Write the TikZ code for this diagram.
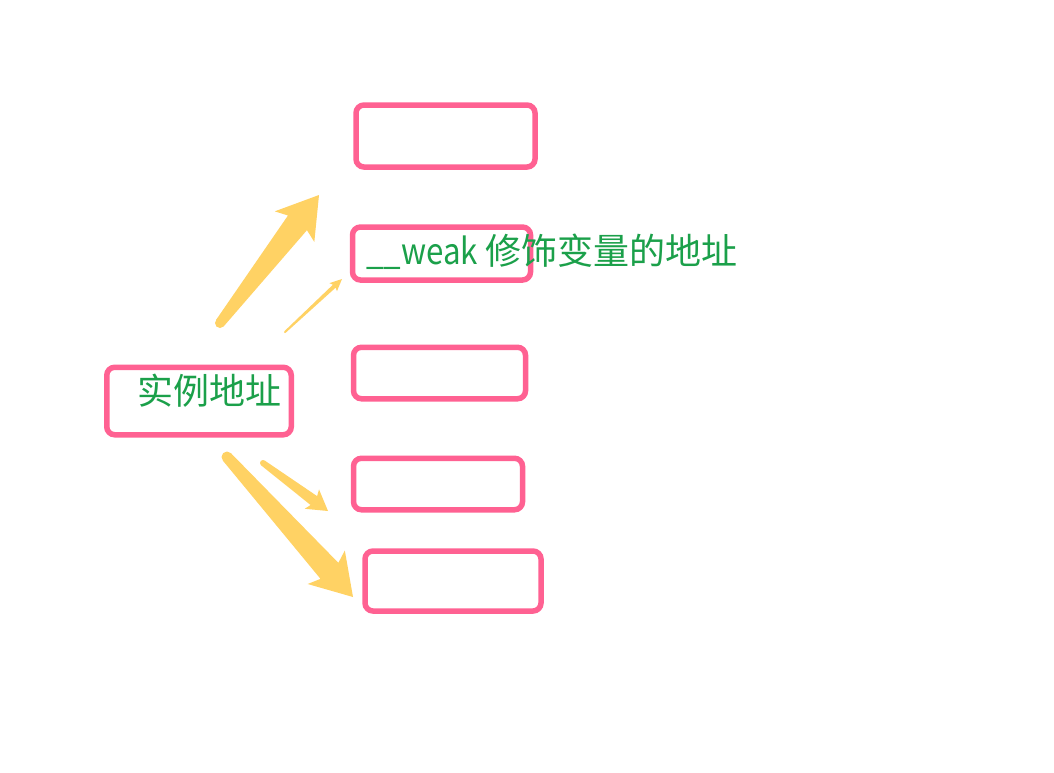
\documentclass[tikz,border=0pt]{standalone}
\usepackage{fontspec}
\usepackage{tikz}
\usetikzlibrary{calc}
\newfontfamily\cjk{Noto Sans CJK SC}
\newfontfamily\cjknarrow[FakeStretch=0.87]{Noto Sans CJK SC}
\definecolor{slotpink}{HTML}{FF6192}
\definecolor{addrgreen}{HTML}{1BA04A}
\definecolor{arrowyel}{HTML}{FFD264}
\tikzset{
  slot/.style={draw=slotpink, line width=5.5pt, rounded corners=8pt, inner sep=0pt, fill=white},
  addr/.style={text=addrgreen, inner sep=0pt, font=\cjk\fontsize{36}{40}\selectfont},
  yarrow/.style={fill=arrowyel},
}
% tail, tip, tail half width, neck half width, head half width, head length
\newcommand\fatarr[6]{%
  \path ($(#2)!0.88*#6!(#1)$) coordinate (nk) ($(#2)!#6!(#1)$) coordinate (hb);
  \fill[yarrow] ($(#1)!#3!90:(#2)$) -- ($(nk)!#4!90:(#2)$) -- ($(hb)!#5!90:(#2)$) -- (#2)
    -- ($(hb)!#5!-90:(#2)$) -- ($(nk)!#4!-90:(#2)$) -- ($(#1)!#3!-90:(#2)$) -- cycle;
  \fill[yarrow] (#1) circle (#3);
}
\begin{document}
\begin{tikzpicture}[x=1pt, y=-1pt]
  \useasboundingbox[fill=white] (0,0) rectangle (1054,772);
  % table slots
  \node[slot, minimum width=179pt, minimum height=62pt] (s1) at (445.5,136) {};
  \node[slot, minimum width=178pt, minimum height=53pt] (s2) at (441.5,253.5) {};
  \node[slot, minimum width=172pt, minimum height=51.5pt] (s3) at (439.5,373) {};
  \node[slot, minimum width=169pt, minimum height=51.5pt] (s4) at (438,484) {};
  \node[slot, minimum width=176pt, minimum height=60pt] (s5) at (453,581) {};
  \node[slot, minimum width=184.5pt, minimum height=67.5pt] (inst) at (199,401) {};
  \node[addr] (instlbl) at (209,391) {实例地址};
  \node[addr, anchor=base west] (weaklbl) at (366,264) {{\cjknarrow\_\_weak }修饰变量的地址};
  % arrows
  \coordinate (a1) at (220,323); \coordinate (b1) at (319,195);
  \coordinate (a2) at (285,332); \coordinate (b2) at (342,279);
  \coordinate (a3) at (263,463); \coordinate (b3) at (328,511);
  \coordinate (a4) at (227,457); \coordinate (b4) at (353,597);
  \fatarr{a1}{b1}{5pt}{12pt}{25pt}{40pt}
  \fatarr{a2}{b2}{1pt}{2pt}{5.5pt}{12pt}
  \fatarr{a3}{b3}{3pt}{5.5pt}{12pt}{20pt}
  \fatarr{a4}{b4}{5.5pt}{12pt}{25pt}{40pt}
\end{tikzpicture}
\end{document}
